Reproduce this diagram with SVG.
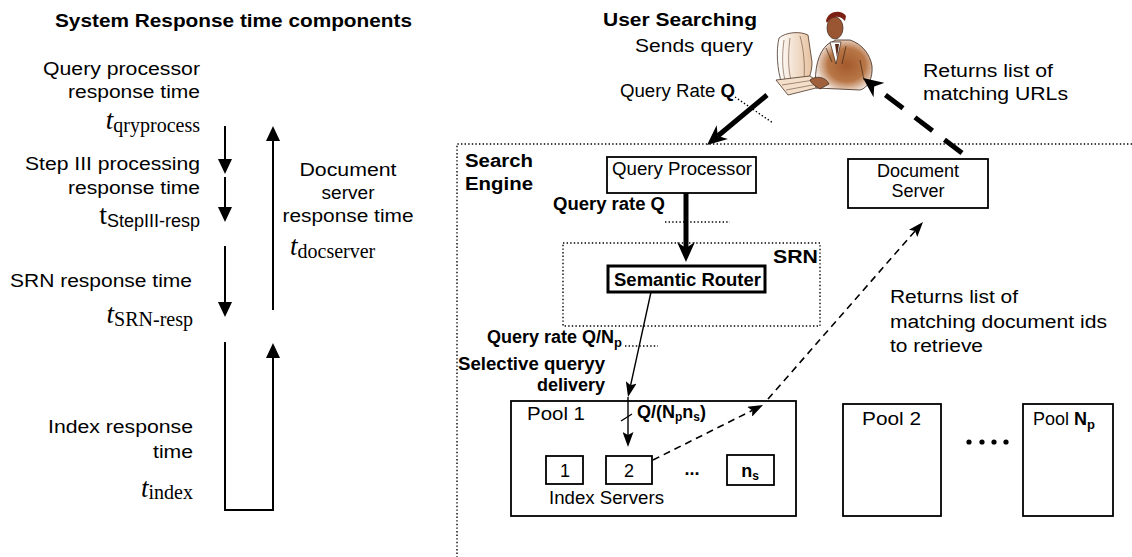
<svg xmlns="http://www.w3.org/2000/svg" width="1132" height="557" viewBox="0 0 1132 557">
  <style>
    .t { font-family: "Liberation Sans", Arial, sans-serif; font-size: 18px; fill: #000; }
    .b { font-weight: bold; }
    .ser { font-family: "Liberation Serif", "Times New Roman", serif; }
    .ti { font-family: "Liberation Serif", "Times New Roman", serif; font-style: italic; font-size: 27px; }
    .sub { font-family: "Liberation Serif", "Times New Roman", serif; font-size: 20px; }
    .box { fill: #fff; stroke: #000; stroke-width: 1.8; }
    .ln { fill: none; stroke: #000; stroke-width: 2; }
    .thin { fill: none; stroke: #000; stroke-width: 1.4; }
    .dot { fill: none; stroke: #000; stroke-width: 1.4; stroke-dasharray: 1.4 2.2; }
    .dash { fill: none; stroke: #000; stroke-width: 1.6; stroke-dasharray: 7 5; }
    .thick { fill: none; stroke: #000; stroke-width: 5; }
  </style>
  <defs>
    <marker id="tri" viewBox="0 -7 15 14" refX="0" refY="0" markerWidth="15" markerHeight="14" markerUnits="userSpaceOnUse" orient="auto">
      <path d="M0,-7 L15,0 L0,7 Z" fill="#000"/>
    </marker>
    <marker id="bighead" viewBox="-6 -9 20 18" refX="0" refY="0" markerWidth="20" markerHeight="18" markerUnits="userSpaceOnUse" orient="auto">
      <path d="M14,0 L-6,-9 L0,0 L-6,9 Z" fill="#000"/>
    </marker>
    <marker id="smallhead" viewBox="-3 -5.5 15 11" refX="0" refY="0" markerWidth="15" markerHeight="11" markerUnits="userSpaceOnUse" orient="auto">
      <path d="M12,0 L-3,-5.5 L0,0 L-3,5.5 Z" fill="#000"/>
    </marker>
    <radialGradient id="suit" cx="0.55" cy="0.5" r="0.6">
      <stop offset="0" stop-color="#a45a2d"/>
      <stop offset="0.55" stop-color="#b87646"/>
      <stop offset="1" stop-color="#ffffff"/>
    </radialGradient>
    <linearGradient id="beige" x1="0" y1="0" x2="1" y2="0">
      <stop offset="0" stop-color="#ffffff"/>
      <stop offset="1" stop-color="#e6c2a0"/>
    </linearGradient>
  </defs>

  <rect width="1132" height="557" fill="#fff"/>

  <!-- Left panel: response time components -->
  <g id="timeline">
    <text class="t b" x="55" y="27" textLength="357" lengthAdjust="spacingAndGlyphs">System Response time components</text>
    <text class="t" x="200" y="75" text-anchor="end" font-size="19" textLength="157" lengthAdjust="spacingAndGlyphs">Query processor</text>
    <text class="t" x="200" y="98" text-anchor="end" font-size="19" textLength="132" lengthAdjust="spacingAndGlyphs">response time</text>
    <text class="t" x="200" y="129" text-anchor="end"><tspan class="ti">t</tspan><tspan class="sub" dy="3">qryprocess</tspan></text>
    <text class="t" x="200" y="170" text-anchor="end" font-size="19" textLength="175" lengthAdjust="spacingAndGlyphs">Step III processing</text>
    <text class="t" x="200" y="194" text-anchor="end" font-size="19" textLength="132" lengthAdjust="spacingAndGlyphs">response time</text>
    <text class="t" x="200" y="224" text-anchor="end"><tspan class="ser" font-size="28">t</tspan><tspan font-size="18" dy="3">StepIII-resp</tspan></text>
    <text class="t" x="348" y="176" text-anchor="middle" font-size="19" textLength="97" lengthAdjust="spacingAndGlyphs">Document</text>
    <text class="t" x="348" y="199" text-anchor="middle" font-size="19" textLength="53" lengthAdjust="spacingAndGlyphs">server</text>
    <text class="t" x="348" y="222" text-anchor="middle" font-size="19" textLength="131" lengthAdjust="spacingAndGlyphs">response time</text>
    <text class="t" x="290" y="255"><tspan class="ti">t</tspan><tspan class="sub" dy="3">docserver</tspan></text>
    <text class="t" x="192" y="287" text-anchor="end" font-size="19" textLength="182" lengthAdjust="spacingAndGlyphs">SRN response time</text>
    <text class="t" x="193" y="323" text-anchor="end"><tspan class="ti">t</tspan><tspan class="sub" font-size="19" dy="3">SRN-resp</tspan></text>
    <text class="t" x="193" y="433" text-anchor="end" font-size="19" textLength="145" lengthAdjust="spacingAndGlyphs">Index response</text>
    <text class="t" x="193" y="458" text-anchor="end" font-size="19" textLength="40" lengthAdjust="spacingAndGlyphs">time</text>
    <text class="t" x="193" y="497" text-anchor="end"><tspan class="ti">t</tspan><tspan class="sub" font-size="19" dy="2">index</tspan></text>
  </g>

  <!-- User at the terminal -->
  <g id="user" transform="translate(760,0)">
    <path d="M19,38 C26,32 40,31 48,35 L52,62 C52,70 50,78 46,82 L22,84 C17,70 16,50 19,38 Z" fill="url(#beige)" stroke="#4a3326" stroke-width="0.8"/>
    <path d="M24,40 C22,55 22,68 25,80 M30,38 C28,55 28,68 31,80 M40,36 C44,50 45,66 44,80" fill="none" stroke="#6b4a36" stroke-width="0.6"/>
    <path d="M16,80 L50,76 L64,86 L28,95 Z" fill="#f3dfca" stroke="#4a3326" stroke-width="0.8"/>
    <path d="M22,85 L54,80 M26,90 L58,84" fill="none" stroke="#6b4a36" stroke-width="0.6"/>
    <path d="M56,88 C54,70 58,52 68,44 L76,40 L90,40 C102,44 110,54 112,66 C113,78 108,88 100,90 Z" fill="url(#suit)" stroke="#3a2418" stroke-width="0.8"/>
    <path d="M70,42 L76,64 L81,42 Z" fill="#fff" stroke="#3a2418" stroke-width="0.7"/>
    <path d="M75,44 L77,58 L79,44 Z" fill="#5a2a18"/>
    <path d="M66,48 L72,62 M86,46 L82,64 M100,60 L104,80" fill="none" stroke="#3a2418" stroke-width="0.7"/>
    <ellipse cx="75" cy="28" rx="8" ry="11" fill="#9a5533" stroke="#3a2418" stroke-width="0.7"/>
    <path d="M66,21 C68,11 81,9 86,16 L85,21 C80,15 72,15 67,23 Z" fill="#7a1f12"/>
    <path d="M50,80 C56,75 66,77 69,84 L60,89 C56,86 52,85 50,80 Z" fill="#a0603b" stroke="#3a2418" stroke-width="0.7"/>
  </g>

  <!-- Search engine boundary -->
  <g id="search-engine">
    <path class="dot" d="M1132,144 H457 V557"/>
    <text class="t b" x="465" y="167" textLength="68" lengthAdjust="spacingAndGlyphs">Search</text>
    <text class="t b" x="465" y="190" textLength="68" lengthAdjust="spacingAndGlyphs">Engine</text>
  </g>

  <g id="query-processor">
    <rect class="box" x="607" y="157" width="149" height="36"/>
    <text class="t" x="612" y="175" textLength="140" lengthAdjust="spacingAndGlyphs">Query Processor</text>
  </g>

  <g id="document-server">
    <rect class="box" x="848" y="159" width="140" height="49"/>
    <text class="t" x="918" y="177" text-anchor="middle">Document</text>
    <text class="t" x="918" y="197" text-anchor="middle">Server</text>
  </g>

  <g id="srn">
    <rect class="dot" x="563" y="243" width="257" height="83"/>
    <text class="t b" x="773" y="263" textLength="45" lengthAdjust="spacingAndGlyphs">SRN</text>
  </g>

  <g id="semantic-router">
    <rect x="608" y="266" width="157" height="26" fill="#fff" stroke="#000" stroke-width="3"/>
    <text class="t b" x="614" y="286" textLength="147" lengthAdjust="spacingAndGlyphs">Semantic Router</text>
  </g>

  <g id="pool-1">
    <rect class="box" x="511" y="401" width="285" height="115"/>
    <text class="t" x="527" y="420" textLength="58" lengthAdjust="spacingAndGlyphs">Pool 1</text>
    <rect class="box" x="546" y="456" width="37" height="28"/>
    <text class="t" x="565" y="477" text-anchor="middle">1</text>
    <rect class="box" x="606" y="456" width="46" height="28"/>
    <text class="t" x="629" y="477" text-anchor="middle">2</text>
    <text class="t b" x="692" y="475" text-anchor="middle">...</text>
    <rect class="box" x="727" y="455" width="47" height="30"/>
    <text class="t b" x="750" y="477" text-anchor="middle" font-size="17">n<tspan font-size="12" dy="3">s</tspan></text>
    <text class="t" x="549" y="504" textLength="115" lengthAdjust="spacingAndGlyphs">Index Servers</text>
  </g>

  <g id="pool-2">
    <rect class="box" x="843" y="404" width="98" height="112"/>
    <text class="t" x="862" y="425" textLength="59" lengthAdjust="spacingAndGlyphs">Pool 2</text>
  </g>

  <g id="pool-ellipsis">
    <circle cx="969" cy="442" r="2.6"/>
    <circle cx="982" cy="442" r="2.6"/>
    <circle cx="994" cy="442" r="2.6"/>
    <circle cx="1006" cy="442" r="2.6"/>
  </g>

  <g id="pool-np">
    <rect class="box" x="1023" y="404" width="90" height="112"/>
    <text class="t" x="1033" y="425" font-size="19">Pool <tspan class="b">N</tspan><tspan class="b" font-size="13" dy="4">p</tspan></text>
  </g>

  <!-- Connectors -->
  <g id="connectors">
    <!-- timing arrows -->
    <line class="ln" x1="225" y1="126" x2="225" y2="159" marker-end="url(#tri)"/>
    <line class="ln" x1="225" y1="177" x2="225" y2="207" marker-end="url(#tri)"/>
    <line class="ln" x1="225" y1="246" x2="225" y2="302" marker-end="url(#tri)"/>
    <path class="ln" d="M225,342 V510 H273 V358" marker-end="url(#tri)"/>
    <line class="ln" x1="273" y1="310" x2="273" y2="141" marker-end="url(#tri)"/>

    <!-- query path -->
    <line class="thick" x1="767" y1="95" x2="717.8" y2="136" marker-end="url(#bighead)"/>
    <line class="dot" x1="735" y1="97" x2="773" y2="123"/>
    <line class="thick" x1="686" y1="193" x2="686" y2="248" marker-end="url(#bighead)"/>
    <line class="dot" x1="665" y1="222" x2="730" y2="222"/>
    <line class="thin" x1="651" y1="292" x2="630.6" y2="385.3" marker-end="url(#smallhead)"/>
    <line class="dot" x1="625" y1="346" x2="658" y2="346"/>
    <line class="thin" x1="628" y1="397" x2="628" y2="435" marker-end="url(#smallhead)"/>
    <line class="thin" x1="621" y1="421" x2="632" y2="414"/>

    <!-- result path -->
    <line class="dash" x1="653" y1="460" x2="752.3" y2="410.4" marker-end="url(#smallhead)"/>
    <line class="dash" x1="768" y1="399" x2="915.1" y2="231" marker-end="url(#smallhead)"/>
    <line class="thick" x1="962" y1="153" x2="874.2" y2="86.5" stroke-dasharray="22 15" marker-end="url(#bighead)"/>
  </g>

  <!-- Connector labels -->
  <g id="labels">
    <text class="t b" x="603" y="26" textLength="154" lengthAdjust="spacingAndGlyphs">User Searching</text>
    <text class="t" x="635" y="52" textLength="118" lengthAdjust="spacingAndGlyphs">Sends query</text>
    <text class="t" x="620" y="97" font-size="17" textLength="115" lengthAdjust="spacingAndGlyphs">Query Rate <tspan class="b">Q</tspan></text>
    <text class="t" x="923" y="77" textLength="130" lengthAdjust="spacingAndGlyphs">Returns list of</text>
    <text class="t" x="923" y="100" textLength="145" lengthAdjust="spacingAndGlyphs">matching URLs</text>
    <text class="t b" x="553" y="210" textLength="112" lengthAdjust="spacingAndGlyphs">Query rate Q</text>
    <text class="t b" x="487" y="343">Query rate Q/N<tspan font-size="13" dy="4">p</tspan></text>
    <text class="t b" x="458" y="370" textLength="147" lengthAdjust="spacingAndGlyphs">Selective queryy</text>
    <text class="t b" x="605" y="391" text-anchor="end">delivery</text>
    <text class="t b" x="637" y="418" font-size="17">Q/(N<tspan font-size="12" dy="3">p</tspan><tspan dy="-3">n</tspan><tspan font-size="12" dy="3">s</tspan><tspan dy="-3">)</tspan></text>
    <text class="t" x="890" y="303" textLength="128" lengthAdjust="spacingAndGlyphs">Returns list of</text>
    <text class="t" x="890" y="328" textLength="217" lengthAdjust="spacingAndGlyphs">matching document ids</text>
    <text class="t" x="890" y="352" textLength="93" lengthAdjust="spacingAndGlyphs">to retrieve</text>
  </g>
</svg>
